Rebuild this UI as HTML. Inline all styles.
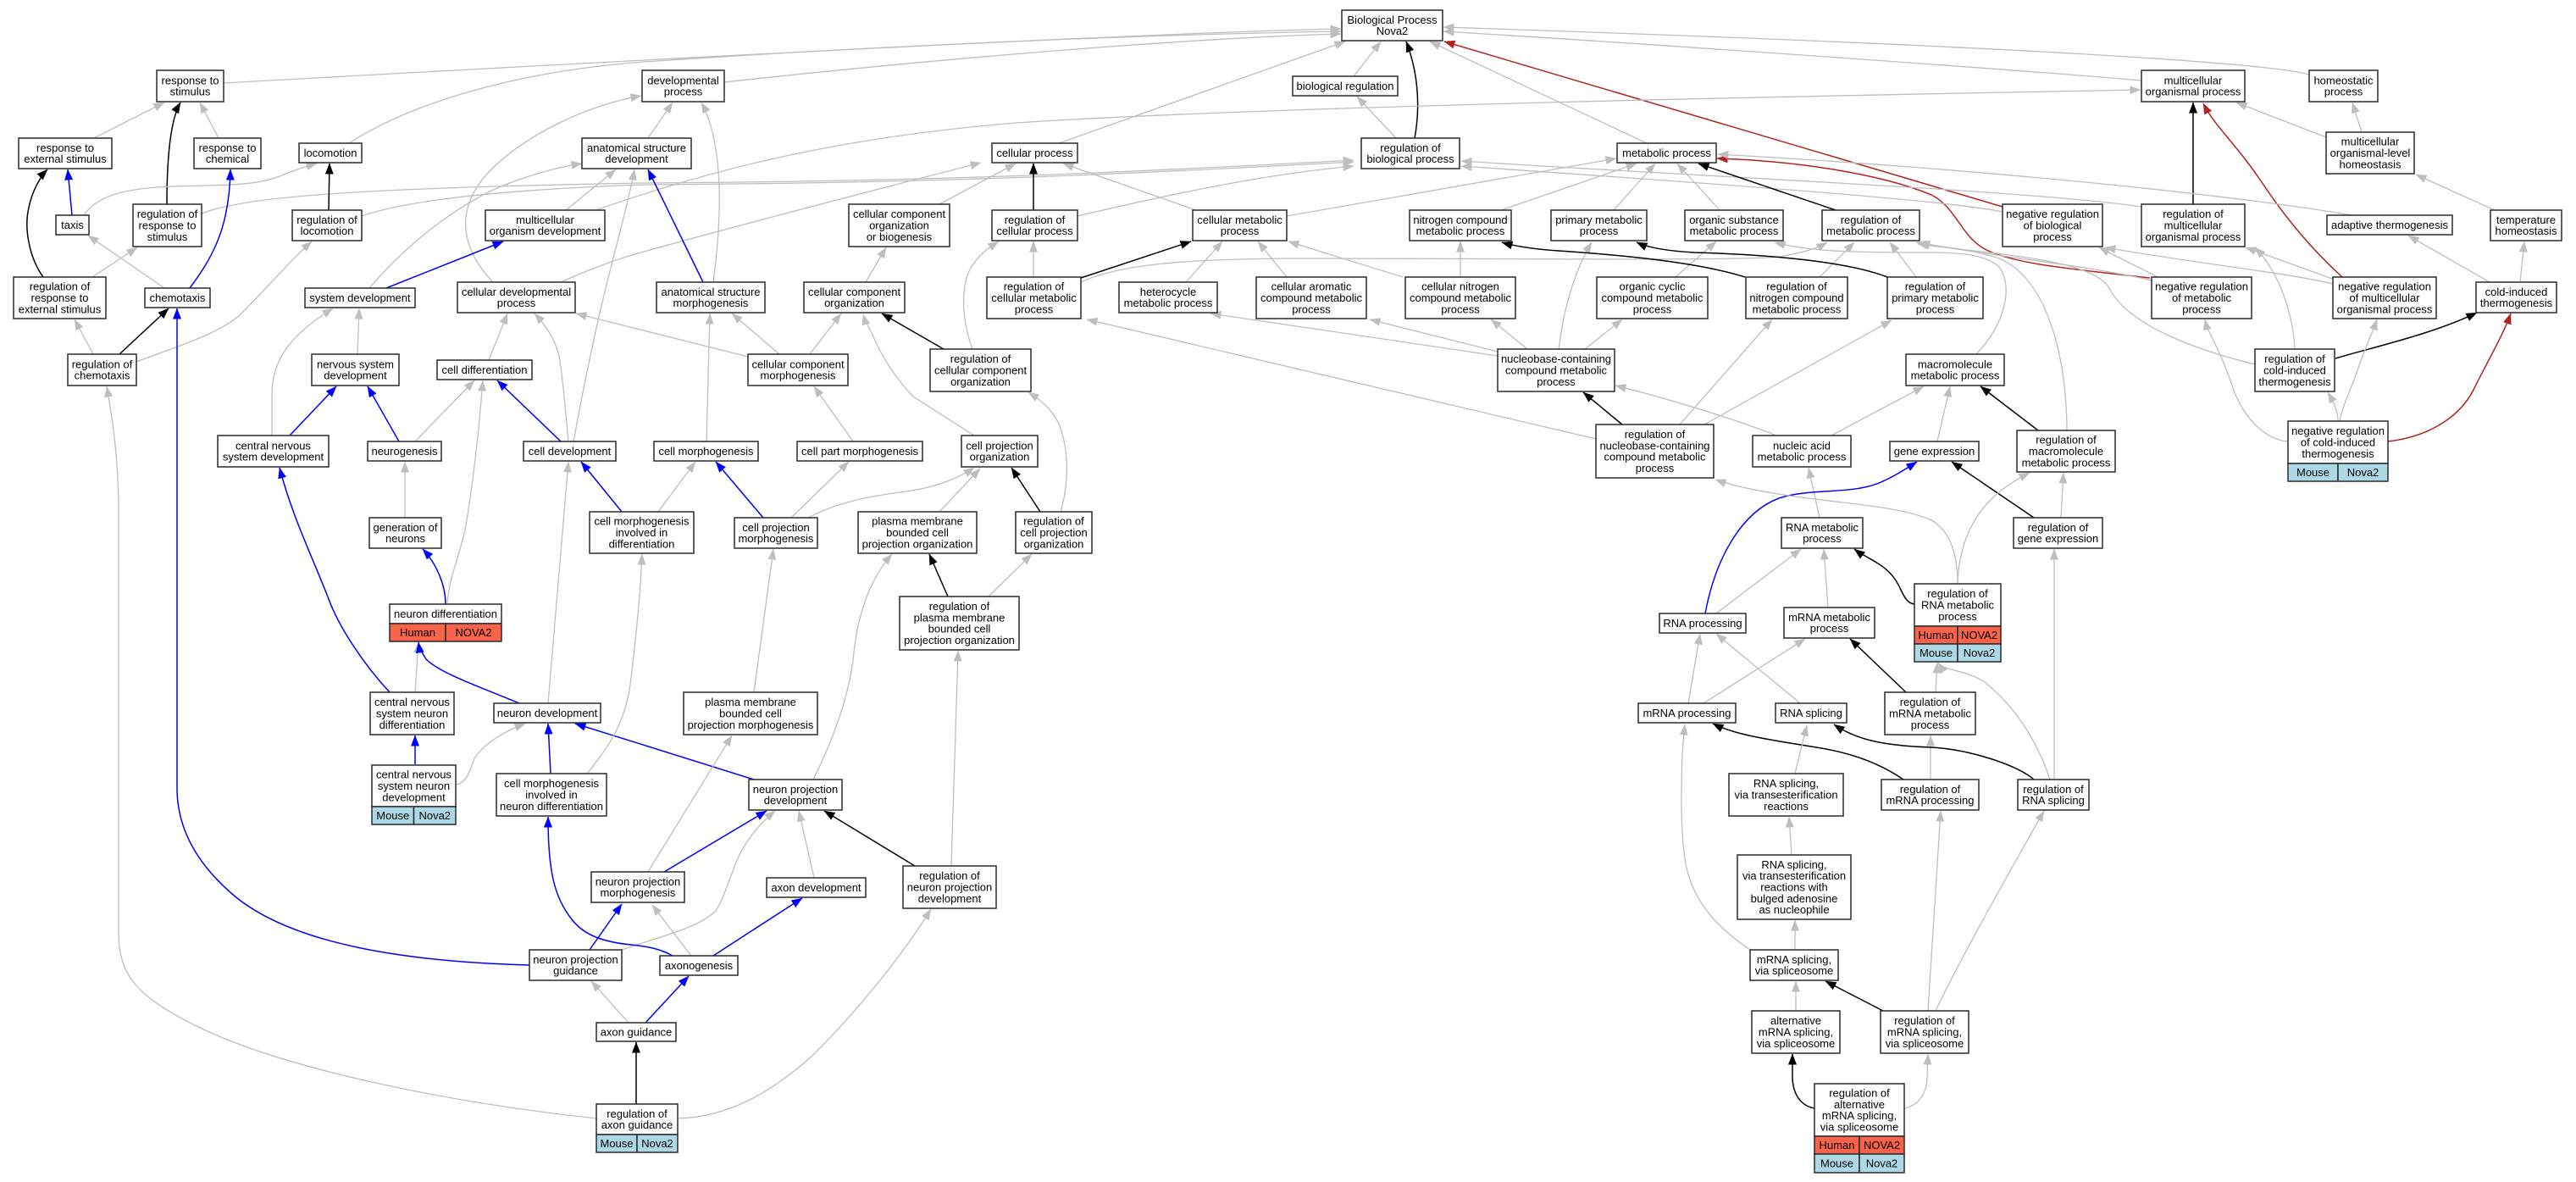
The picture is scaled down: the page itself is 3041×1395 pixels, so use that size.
<!DOCTYPE html>
<html><head><meta charset="utf-8"><style>
html,body{margin:0;padding:0;background:#fff;}
svg{display:block;}
.e{fill:none;stroke-width:1.3}
.g{stroke:#bebebe;marker-end:url(#ag)}
.k{stroke:#000;stroke-width:1.5;marker-end:url(#ak)}
.b{stroke:#0000ff;stroke-width:1.5;marker-end:url(#ab)}
.r{stroke:#b22222;stroke-width:1.5;marker-end:url(#ar)}
rect{fill:#fff;stroke:#2a2a2a;stroke-width:1.5}
rect.h{fill:#f9634a}
rect.m{fill:#add8e6}
text{font-family:"Liberation Sans",Arial,sans-serif;font-size:13px;text-anchor:middle;fill:#000}
</style></head><body>
<svg width="3041" height="1395" viewBox="0 0 3041 1395" xmlns="http://www.w3.org/2000/svg">
<defs>
<marker id="ag" viewBox="0 0 13 10" refX="12.5" refY="5" markerWidth="13" markerHeight="10" markerUnits="userSpaceOnUse" orient="auto"><path d="M0,0L13,5L0,10z" fill="#bebebe"/></marker>
<marker id="ak" viewBox="0 0 13 10" refX="12.5" refY="5" markerWidth="13" markerHeight="10" markerUnits="userSpaceOnUse" orient="auto"><path d="M0,0L13,5L0,10z" fill="#000"/></marker>
<marker id="ab" viewBox="0 0 13 10" refX="12.5" refY="5" markerWidth="13" markerHeight="10" markerUnits="userSpaceOnUse" orient="auto"><path d="M0,0L13,5L0,10z" fill="#0000ff"/></marker>
<marker id="ar" viewBox="0 0 13 10" refX="12.5" refY="5" markerWidth="13" markerHeight="10" markerUnits="userSpaceOnUse" orient="auto"><path d="M0,0L13,5L0,10z" fill="#b22222"/></marker>
</defs>
<rect x="0" y="0" width="3041" height="1395" style="fill:#fff;stroke:none"/>

<!-- edges -->
<g class="e">
<path class="g" d="M264,98 C500,85 1300,40 1583,34"/>
<path class="g" d="M412,169 C480,125 600,85 760,73 C1100,50 1400,40 1583,37"/>
<path class="g" d="M855,97 C1100,70 1400,45 1583,40"/>
<path class="g" d="M1250,169 L1588,49"/>
<path class="g" d="M1598,90 L1630,49"/>
<path class="k" d="M1670,163 C1678,120 1672,80 1660,49"/>
<path class="g" d="M1944,169 L1688,49"/>
<path class="r" d="M2364,244 L1705,49"/>
<path class="g" d="M2528,95 C2400,84 2000,55 1704,37"/>
<path class="g" d="M2726,88 C2680,75 2400,55 1704,32"/>
<path class="g" d="M1648,163 L1602,114"/>
<path class="g" d="M111,163 L194,121"/>
<path class="g" d="M258,163 L236,121"/>
<path class="k" d="M197,241 C197,180 202,140 213,121"/>
<path class="g" d="M765,163 L794,121"/>
<path class="g" d="M842,333 C852,260 855,170 828,121"/>
<path class="g" d="M582,333 C550,300 530,250 580,200 C620,160 690,125 757,113"/>
<path class="g" d="M703,248 C800,215 950,165 1200,145 C1500,125 2200,112 2527,106"/>
<path class="g" d="M668,248 L727,200"/>
<path class="g" d="M2746,162 L2640,121"/>
<path class="g" d="M2788,156 L2777,121"/>
<path class="k" d="M2589,241 L2589,121"/>
<path class="r" d="M2765,327 C2730,295 2700,260 2670,215 C2640,170 2615,150 2601,122"/>
<path class="g" d="M2945,248 L2852,206"/>
<path class="g" d="M2939,333 L2843,278"/>
<path class="g" d="M2975,333 L2980,285"/>
<path class="k" d="M2757,423 C2800,410 2870,395 2924,369"/>
<path class="r" d="M2819,521 C2870,515 2905,490 2920,460 C2940,420 2955,395 2964,370"/>
<path class="g" d="M2760,497 C2760,485 2755,475 2748,463"/>
<path class="g" d="M2762,497 C2765,480 2775,460 2782,440 C2792,410 2800,395 2806,377"/>
<path class="g" d="M2701,521 C2680,520 2650,500 2635,455 C2620,410 2607,395 2603,377"/>
<path class="g" d="M2754,335 C2700,322 2600,312 2485,292"/>
<path class="g" d="M2756,330 L2651,292"/>
<path class="g" d="M2709,412 C2707,370 2690,320 2662,292"/>
<path class="g" d="M2547,327 L2478,292"/>
<path class="r" d="M2538,328 C2450,318 2380,312 2345,295 C2315,280 2310,245 2280,230 C2220,205 2120,190 2027,187"/>
<path class="g" d="M2540,331 C2460,312 2330,300 2266,286"/>
<path class="g" d="M2440,508 C2440,430 2420,330 2360,305 C2320,292 2290,292 2262,286"/>
<path class="g" d="M2662,430 C2580,410 2510,380 2490,340 C2470,305 2350,300 2264,288"/>
<path class="g" d="M2528,244 C2400,225 2000,208 1725,190"/>
<path class="g" d="M2364,250 C2300,236 2000,215 1725,196"/>
<path class="g" d="M2777,254 C2600,225 2300,197 2028,182"/>
<path class="b" d="M85,254 L80,200"/>
<path class="g" d="M99,254 C115,230 150,222 204,220 C260,218 300,220 330,208 C350,200 362,196 374,193"/>
<path class="g" d="M238,252 C290,232 420,222 760,216 C1100,214 1300,205 1598,189"/>
<path class="g" d="M427,255 C470,240 560,225 760,218 C1100,216 1300,207 1598,191"/>
<path class="g" d="M1272,255 C1400,225 1500,205 1598,196"/>
<path class="k" d="M51,327 C35,305 28,270 34,245 C38,225 48,208 56,200"/>
<path class="g" d="M109,327 L162,292"/>
<path class="g" d="M110,418 L88,377"/>
<path class="k" d="M141,418 L199,364"/>
<path class="g" d="M161,427 C220,405 262,392 285,370 C315,340 345,305 368,285"/>
<path class="k" d="M388,248 L389,193"/>
<path class="g" d="M194,340 L104,278"/>
<path class="b" d="M224,340 C250,305 271,270 272,200"/>
<path class="g" d="M436,340 C470,300 520,255 580,225 C620,207 660,197 687,193"/>
<path class="b" d="M456,340 L594,285"/>
<path class="g" d="M422,418 L424,364"/>
<path class="g" d="M321,514 L321,465 C322,430 335,400 393,364"/>
<path class="g" d="M662,333 C700,316 730,305 760,297 C900,258 1050,220 1158,192"/>
<path class="g" d="M883,421 L680,370"/>
<path class="g" d="M577,425 L599,370"/>
<path class="g" d="M671,521 C667,480 664,440 660,420 C655,400 645,385 631,370"/>
<path class="g" d="M677,521 C685,480 690,450 697,420 C715,330 740,250 749,200"/>
<path class="b" d="M830,333 L765,200"/>
<path class="g" d="M834,521 L838,370"/>
<path class="g" d="M920,418 L864,370"/>
<path class="g" d="M956,418 L993,370"/>
<path class="g" d="M1022,333 L1046,292"/>
<path class="k" d="M1114,412 L1041,370"/>
<path class="g" d="M1148,412 C1138,385 1132,345 1145,318 C1155,300 1168,292 1179,285"/>
<path class="g" d="M1109,241 L1199,193"/>
<path class="k" d="M1220,248 L1220,193"/>
<path class="g" d="M1412,248 L1255,193"/>
<path class="g" d="M1220,327 L1220,285"/>
<path class="k" d="M1276,328 L1406,285"/>
<path class="g" d="M1276,333 C1320,312 1400,306 1520,305 C1800,305 2050,308 2100,303 C2130,298 2145,293 2157,286"/>
<path class="g" d="M1400,333 L1443,285"/>
<path class="g" d="M1519,327 L1485,285"/>
<path class="g" d="M1656,327 L1521,285"/>
<path class="g" d="M1519,255 L1908,187"/>
<path class="g" d="M1772,248 L1932,193"/>
<path class="g" d="M1905,248 L1954,193"/>
<path class="g" d="M2030,248 L1980,193"/>
<path class="k" d="M2167,248 L2005,193"/>
<path class="g" d="M1724,327 L1724,285"/>
<path class="g" d="M1803,412 L1760,377"/>
<path class="g" d="M1871,412 L1915,377"/>
<path class="g" d="M1840,412 C1845,370 1858,320 1879,286"/>
<path class="g" d="M1768,420 L1429,370"/>
<path class="g" d="M1768,415 L1617,377"/>
<path class="g" d="M1978,327 L2026,285"/>
<path class="k" d="M2060,327 C2000,308 1900,300 1840,296 C1810,294 1790,291 1773,286"/>
<path class="g" d="M2148,327 L2189,286"/>
<path class="k" d="M2228,327 C2180,308 2080,300 2000,298 C1965,296 1945,292 1932,286"/>
<path class="g" d="M2262,327 L2231,286"/>
<path class="g" d="M2333,418 C2365,385 2378,340 2360,315 C2345,300 2310,298 2280,298 C2200,298 2140,298 2095,286"/>
<path class="k" d="M1915,501 L1869,463"/>
<path class="g" d="M1983,501 L2092,377"/>
<path class="g" d="M2012,501 L2233,378"/>
<path class="g" d="M1884,518 L1283,377"/>
<path class="g" d="M2097,514 C2050,495 1960,468 1907,455"/>
<path class="g" d="M2162,514 L2271,456"/>
<path class="g" d="M2287,521 L2302,456"/>
<path class="k" d="M2406,508 L2338,456"/>
<path class="k" d="M2401,611 L2304,545"/>
<path class="g" d="M2433,611 L2436,558"/>
<path class="g" d="M2148,611 L2135,552"/>
<path class="b" d="M2013,724 C2025,660 2055,605 2100,588 C2140,575 2190,585 2225,567 C2240,560 2252,552 2263,545"/>
<path class="g" d="M2026,724 L2126,648"/>
<path class="g" d="M2158,717 L2153,648"/>
<path class="k" d="M2260,713 C2248,712 2245,695 2238,685 C2225,665 2205,660 2189,648"/>
<path class="g" d="M2311,689 C2311,650 2300,625 2280,614 C2250,600 2190,595 2150,590 C2090,583 2050,575 2025,566"/>
<path class="g" d="M2311,689 C2312,650 2325,615 2350,590 C2365,575 2380,566 2396,558"/>
<path class="g" d="M1993,830 L2007,748"/>
<path class="g" d="M2011,830 L2131,754"/>
<path class="g" d="M2125,830 L2026,748"/>
<path class="k" d="M2250,817 L2184,754"/>
<path class="g" d="M2285,817 L2287,782"/>
<path class="k" d="M2247,920 C2215,898 2180,888 2150,883 C2090,873 2050,868 2022,854"/>
<path class="g" d="M2279,920 L2279,868"/>
<path class="k" d="M2401,920 C2385,905 2330,885 2280,882 C2220,880 2190,872 2165,855"/>
<path class="g" d="M2425,920 L2425,648"/>
<path class="g" d="M2420,920 C2405,875 2380,835 2343,805 C2320,790 2295,792 2288,782"/>
<path class="g" d="M2119,913 L2133,856"/>
<path class="g" d="M2115,1009 L2112,964"/>
<path class="g" d="M2119,1121 L2119,1086"/>
<path class="g" d="M2066,1121 C2035,1100 2000,1070 1990,1020 C1983,980 1985,920 1986,890 C1987,875 1988,865 1989,855"/>
<path class="g" d="M2120,1193 L2120,1158"/>
<path class="k" d="M2223,1193 L2155,1158"/>
<path class="g" d="M2276,1193 L2291,957"/>
<path class="g" d="M2285,1193 C2310,1140 2360,1050 2413,957"/>
<path class="k" d="M2142,1308 C2125,1305 2116,1290 2116,1270 L2116,1244"/>
<path class="g" d="M2248,1308 C2265,1305 2275,1290 2275,1270 L2276,1244"/>
<path class="b" d="M342,514 L397,456"/>
<path class="b" d="M471,521 L434,456"/>
<path class="g" d="M490,521 L560,449"/>
<path class="g" d="M528,713 C530,680 545,650 550,620 C560,560 566,500 570,449"/>
<path class="b" d="M662,521 L587,449"/>
<path class="g" d="M478,611 L478,545"/>
<path class="b" d="M526,713 C526,690 515,665 499,648"/>
<path class="g" d="M490,817 L494,758"/>
<path class="b" d="M460,817 C430,785 400,740 388,707 C370,660 345,610 330,552"/>
<path class="b" d="M613,830 C570,812 520,795 503,778 C498,770 495,765 494,758"/>
<path class="b" d="M490,902 L490,868"/>
<path class="b" d="M734,604 L686,545"/>
<path class="g" d="M647,830 L671,545"/>
<path class="b" d="M650,913 L647,854"/>
<path class="g" d="M538,926 C550,925 555,910 560,895 C570,880 590,865 620,854"/>
<path class="b" d="M890,920 L679,854"/>
<path class="g" d="M693,913 C720,880 740,850 745,800 C752,740 756,700 758,654"/>
<path class="g" d="M777,604 L821,545"/>
<path class="b" d="M901,611 L845,545"/>
<path class="g" d="M934,611 L1002,545"/>
<path class="g" d="M954,611 C990,592 1030,585 1070,580 C1105,575 1130,565 1150,552"/>
<path class="g" d="M1109,604 L1157,553"/>
<path class="k" d="M1228,604 L1194,552"/>
<path class="g" d="M1007,521 L961,456"/>
<path class="g" d="M1150,514 L1078,468 C1060,450 1040,420 1030,395 C1025,385 1021,378 1019,371"/>
<path class="g" d="M1252,604 C1262,570 1262,530 1250,500 C1240,480 1225,470 1214,463"/>
<path class="k" d="M1119,704 L1097,654"/>
<path class="g" d="M1167,704 L1218,654"/>
<path class="g" d="M890,817 L913,648"/>
<path class="g" d="M960,920 C980,880 1000,830 1007,780 C1012,720 1030,680 1053,654"/>
<path class="g" d="M1123,1022 L1131,768"/>
<path class="g" d="M765,1029 L864,868"/>
<path class="b" d="M625,1139 C480,1135 350,1115 280,1060 C225,1015 209,970 209,930 L209,364"/>
<path class="g" d="M704,1320 C520,1300 330,1260 230,1210 C160,1175 140,1150 140,1100 L140,600 C140,540 132,490 126,456"/>
<path class="b" d="M696,1121 L734,1067"/>
<path class="g" d="M734,1121 C780,1105 825,1095 845,1075 C858,1055 865,1020 878,1000 C888,982 902,968 915,957"/>
<path class="b" d="M794,1128 C780,1120 765,1117 745,1115 C715,1112 690,1105 675,1085 C655,1060 647,1030 647,964"/>
<path class="g" d="M816,1128 L770,1068"/>
<path class="b" d="M842,1128 L947,1060"/>
<path class="b" d="M762,1207 L813,1152"/>
<path class="g" d="M742,1207 L698,1158"/>
<path class="k" d="M751,1303 L751,1230"/>
<path class="g" d="M801,1320 C860,1318 910,1290 960,1245 C1020,1185 1070,1120 1099,1073"/>
<path class="b" d="M784,1029 L905,957"/>
<path class="g" d="M961,1036 L943,957"/>
<path class="k" d="M1080,1022 L973,957"/>
</g>

<!-- nodes -->
<rect x="1584" y="12" width="119" height="36"/><text x="1643.5" y="27.9">Biological Process</text><text x="1643.5" y="41.2">Nova2</text>
<rect x="1526" y="90" width="124" height="23"/><text x="1588" y="106">biological regulation</text>
<rect x="1607" y="163" width="116" height="36"/><text x="1665" y="178.9">regulation of</text><text x="1665" y="192.2">biological process</text>
<rect x="185" y="83" width="79" height="37"/><text x="224.5" y="99.4">response to</text><text x="224.5" y="112.7">stimulus</text>
<rect x="758" y="83" width="97" height="37"/><text x="806.5" y="99.4">developmental</text><text x="806.5" y="112.7">process</text>
<rect x="2528" y="83" width="122" height="37"/><text x="2589" y="99.4">multicellular</text><text x="2589" y="112.7">organismal process</text>
<rect x="2726" y="83" width="81" height="37"/><text x="2766.5" y="99.4">homeostatic</text><text x="2766.5" y="112.7">process</text>
<rect x="22" y="163" width="110" height="36"/><text x="77" y="178.9">response to</text><text x="77" y="192.2">external stimulus</text>
<rect x="229" y="163" width="79" height="36"/><text x="268.5" y="178.9">response to</text><text x="268.5" y="192.2">chemical</text>
<rect x="353" y="169" width="74" height="23"/><text x="390" y="185">locomotion</text>
<rect x="687" y="163" width="129" height="36"/><text x="751.5" y="178.9">anatomical structure</text><text x="751.5" y="192.2">development</text>
<rect x="1171" y="169" width="101" height="23"/><text x="1221.5" y="185">cellular process</text>
<rect x="1909" y="169" width="117" height="23"/><text x="1967.5" y="185">metabolic process</text>
<rect x="2746" y="156" width="104" height="49"/><text x="2798" y="171.7">multicellular</text><text x="2798" y="185">organismal-level</text><text x="2798" y="198.3">homeostasis</text>
<rect x="66" y="254" width="39" height="23"/><text x="85.5" y="270">taxis</text>
<rect x="157" y="241" width="81" height="50"/><text x="197.5" y="257.2">regulation of</text><text x="197.5" y="270.5">response to</text><text x="197.5" y="283.8">stimulus</text>
<rect x="345" y="248" width="82" height="36"/><text x="386" y="263.9">regulation of</text><text x="386" y="277.2">locomotion</text>
<rect x="573" y="248" width="141" height="36"/><text x="643.5" y="263.9">multicellular</text><text x="643.5" y="277.2">organism development</text>
<rect x="1002" y="241" width="119" height="50"/><text x="1061.5" y="257.2">cellular component</text><text x="1061.5" y="270.5">organization</text><text x="1061.5" y="283.8">or biogenesis</text>
<rect x="1171" y="248" width="101" height="36"/><text x="1221.5" y="263.9">regulation of</text><text x="1221.5" y="277.2">cellular process</text>
<rect x="1408" y="248" width="111" height="36"/><text x="1463.5" y="263.9">cellular metabolic</text><text x="1463.5" y="277.2">process</text>
<rect x="1664" y="248" width="120" height="36"/><text x="1724" y="263.9">nitrogen compound</text><text x="1724" y="277.2">metabolic process</text>
<rect x="1831" y="248" width="113" height="36"/><text x="1887.5" y="263.9">primary metabolic</text><text x="1887.5" y="277.2">process</text>
<rect x="1989" y="248" width="116" height="36"/><text x="2047" y="263.9">organic substance</text><text x="2047" y="277.2">metabolic process</text>
<rect x="2151" y="248" width="115" height="36"/><text x="2208.5" y="263.9">regulation of</text><text x="2208.5" y="277.2">metabolic process</text>
<rect x="2364" y="241" width="118" height="50"/><text x="2423" y="257.2">negative regulation</text><text x="2423" y="270.5">of biological</text><text x="2423" y="283.8">process</text>
<rect x="2528" y="241" width="122" height="50"/><text x="2589" y="257.2">regulation of</text><text x="2589" y="270.5">multicellular</text><text x="2589" y="283.8">organismal process</text>
<rect x="2747" y="254" width="148" height="23"/><text x="2821" y="270">adaptive thermogenesis</text>
<rect x="2940" y="248" width="84" height="36"/><text x="2982" y="263.9">temperature</text><text x="2982" y="277.2">homeostasis</text>
<rect x="16" y="327" width="109" height="49"/><text x="70.5" y="342.7">regulation of</text><text x="70.5" y="356">response to</text><text x="70.5" y="369.3">external stimulus</text>
<rect x="171" y="340" width="77" height="23"/><text x="209.5" y="356">chemotaxis</text>
<rect x="360" y="340" width="130" height="23"/><text x="425" y="356">system development</text>
<rect x="540" y="333" width="139" height="36"/><text x="609.5" y="348.9">cellular developmental</text><text x="609.5" y="362.2">process</text>
<rect x="775" y="333" width="128" height="36"/><text x="839" y="348.9">anatomical structure</text><text x="839" y="362.2">morphogenesis</text>
<rect x="949" y="333" width="119" height="36"/><text x="1008.5" y="348.9">cellular component</text><text x="1008.5" y="362.2">organization</text>
<rect x="1165" y="327" width="111" height="49"/><text x="1220.5" y="342.7">regulation of</text><text x="1220.5" y="356">cellular metabolic</text><text x="1220.5" y="369.3">process</text>
<rect x="1321" y="333" width="116" height="36"/><text x="1379" y="348.9">heterocycle</text><text x="1379" y="362.2">metabolic process</text>
<rect x="1483" y="327" width="130" height="49"/><text x="1548" y="342.7">cellular aromatic</text><text x="1548" y="356">compound metabolic</text><text x="1548" y="369.3">process</text>
<rect x="1659" y="327" width="130" height="49"/><text x="1724" y="342.7">cellular nitrogen</text><text x="1724" y="356">compound metabolic</text><text x="1724" y="369.3">process</text>
<rect x="1885" y="327" width="131" height="49"/><text x="1950.5" y="342.7">organic cyclic</text><text x="1950.5" y="356">compound metabolic</text><text x="1950.5" y="369.3">process</text>
<rect x="2061" y="327" width="120" height="49"/><text x="2121" y="342.7">regulation of</text><text x="2121" y="356">nitrogen compound</text><text x="2121" y="369.3">metabolic process</text>
<rect x="2228" y="327" width="113" height="49"/><text x="2284.5" y="342.7">regulation of</text><text x="2284.5" y="356">primary metabolic</text><text x="2284.5" y="369.3">process</text>
<rect x="2540" y="327" width="118" height="49"/><text x="2599" y="342.7">negative regulation</text><text x="2599" y="356">of metabolic</text><text x="2599" y="369.3">process</text>
<rect x="2754" y="327" width="122" height="49"/><text x="2815" y="342.7">negative regulation</text><text x="2815" y="356">of multicellular</text><text x="2815" y="369.3">organismal process</text>
<rect x="2923" y="333" width="95" height="36"/><text x="2970.5" y="348.9">cold-induced</text><text x="2970.5" y="362.2">thermogenesis</text>
<rect x="80" y="418" width="81" height="37"/><text x="120.5" y="434.4">regulation of</text><text x="120.5" y="447.7">chemotaxis</text>
<rect x="368" y="418" width="103" height="37"/><text x="419.5" y="434.4">nervous system</text><text x="419.5" y="447.7">development</text>
<rect x="516" y="425" width="112" height="23"/><text x="572" y="441">cell differentiation</text>
<rect x="883" y="418" width="118" height="37"/><text x="942" y="434.4">cellular component</text><text x="942" y="447.7">morphogenesis</text>
<rect x="1098" y="412" width="119" height="50"/><text x="1157.5" y="428.2">regulation of</text><text x="1157.5" y="441.5">cellular component</text><text x="1157.5" y="454.8">organization</text>
<rect x="1768" y="412" width="138" height="50"/><text x="1837" y="428.2">nucleobase-containing</text><text x="1837" y="441.5">compound metabolic</text><text x="1837" y="454.8">process</text>
<rect x="2250" y="418" width="116" height="37"/><text x="2308" y="434.4">macromolecule</text><text x="2308" y="447.7">metabolic process</text>
<rect x="2662" y="412" width="94" height="50"/><text x="2709" y="428.2">regulation of</text><text x="2709" y="441.5">cold-induced</text><text x="2709" y="454.8">thermogenesis</text>
<rect x="257" y="514" width="131" height="37"/><text x="322.5" y="530.4">central nervous</text><text x="322.5" y="543.7">system development</text>
<rect x="434" y="521" width="87" height="23"/><text x="477.5" y="537">neurogenesis</text>
<rect x="618" y="521" width="109" height="23"/><text x="672.5" y="537">cell development</text>
<rect x="772" y="521" width="123" height="23"/><text x="833.5" y="537">cell morphogenesis</text>
<rect x="941" y="521" width="148" height="23"/><text x="1015" y="537">cell part morphogenesis</text>
<rect x="1135" y="514" width="90" height="37"/><text x="1180" y="530.4">cell projection</text><text x="1180" y="543.7">organization</text>
<rect x="1884" y="501" width="139" height="63"/><text x="1953.5" y="517">regulation of</text><text x="1953.5" y="530.4">nucleobase-containing</text><text x="1953.5" y="543.7">compound metabolic</text><text x="1953.5" y="557">process</text>
<rect x="2069" y="514" width="116" height="37"/><text x="2127" y="530.4">nucleic acid</text><text x="2127" y="543.7">metabolic process</text>
<rect x="2231" y="521" width="105" height="23"/><text x="2283.5" y="537">gene expression</text>
<rect x="2381" y="508" width="116" height="49"/><text x="2439" y="523.7">regulation of</text><text x="2439" y="537">macromolecule</text><text x="2439" y="550.3">metabolic process</text>
<rect x="2701" y="497" width="118" height="50"/><text x="2760" y="513.2">negative regulation</text><text x="2760" y="526.5">of cold-induced</text><text x="2760" y="539.8">thermogenesis</text>
<rect class="m" x="2701" y="547" width="59" height="21"/><rect class="m" x="2760" y="547" width="59" height="21"/><text x="2730.5" y="562">Mouse</text><text x="2789.5" y="562">Nova2</text>
<rect x="436" y="611" width="85" height="36"/><text x="478.5" y="626.9">generation of</text><text x="478.5" y="640.2">neurons</text>
<rect x="696" y="604" width="123" height="49"/><text x="757.5" y="619.7">cell morphogenesis</text><text x="757.5" y="633">involved in</text><text x="757.5" y="646.3">differentiation</text>
<rect x="867" y="611" width="98" height="36"/><text x="916" y="626.9">cell projection</text><text x="916" y="640.2">morphogenesis</text>
<rect x="1013" y="604" width="140" height="49"/><text x="1083" y="619.7">plasma membrane</text><text x="1083" y="633">bounded cell</text><text x="1083" y="646.3">projection organization</text>
<rect x="1199" y="604" width="90" height="49"/><text x="1244" y="619.7">regulation of</text><text x="1244" y="633">cell projection</text><text x="1244" y="646.3">organization</text>
<rect x="2103" y="611" width="96" height="36"/><text x="2151" y="626.9">RNA metabolic</text><text x="2151" y="640.2">process</text>
<rect x="2377" y="611" width="105" height="36"/><text x="2429.5" y="626.9">regulation of</text><text x="2429.5" y="640.2">gene expression</text>
<rect x="1062" y="704" width="141" height="63"/><text x="1132.5" y="720">regulation of</text><text x="1132.5" y="733.4">plasma membrane</text><text x="1132.5" y="746.7">bounded cell</text><text x="1132.5" y="760">projection organization</text>
<rect x="460" y="713" width="132" height="23"/><text x="526" y="729">neuron differentiation</text>
<rect class="h" x="460" y="736" width="66" height="21"/><rect class="h" x="526" y="736" width="66" height="21"/><text x="493" y="751">Human</text><text x="559" y="751">NOVA2</text>
<rect x="1959" y="724" width="102" height="23"/><text x="2010" y="740">RNA processing</text>
<rect x="2106" y="717" width="107" height="36"/><text x="2159.5" y="732.9">mRNA metabolic</text><text x="2159.5" y="746.2">process</text>
<rect x="2260" y="689" width="102" height="50"/><text x="2311" y="705.2">regulation of</text><text x="2311" y="718.5">RNA metabolic</text><text x="2311" y="731.8">process</text>
<rect class="h" x="2260" y="739" width="51" height="21"/><rect class="h" x="2311" y="739" width="51" height="21"/><text x="2285.5" y="754">Human</text><text x="2336.5" y="754">NOVA2</text>
<rect class="m" x="2260" y="760" width="51" height="21"/><rect class="m" x="2311" y="760" width="51" height="21"/><text x="2285.5" y="775">Mouse</text><text x="2336.5" y="775">Nova2</text>
<rect x="437" y="817" width="99" height="50"/><text x="486.5" y="833.2">central nervous</text><text x="486.5" y="846.5">system neuron</text><text x="486.5" y="859.8">differentiation</text>
<rect x="583" y="830" width="126" height="23"/><text x="646" y="846">neuron development</text>
<rect x="807" y="817" width="158" height="50"/><text x="886" y="833.2">plasma membrane</text><text x="886" y="846.5">bounded cell</text><text x="886" y="859.8">projection morphogenesis</text>
<rect x="1934" y="830" width="115" height="23"/><text x="1991.5" y="846">mRNA processing</text>
<rect x="2096" y="830" width="84" height="23"/><text x="2138" y="846">RNA splicing</text>
<rect x="2225" y="817" width="107" height="50"/><text x="2278.5" y="833.2">regulation of</text><text x="2278.5" y="846.5">mRNA metabolic</text><text x="2278.5" y="859.8">process</text>
<rect x="439" y="903" width="99" height="49"/><text x="488.5" y="918.7">central nervous</text><text x="488.5" y="932">system neuron</text><text x="488.5" y="945.3">development</text>
<rect class="m" x="439" y="952" width="49.5" height="21"/><rect class="m" x="488.5" y="952" width="49.5" height="21"/><text x="463.75" y="967">Mouse</text><text x="513.25" y="967">Nova2</text>
<rect x="586" y="913" width="130" height="50"/><text x="651" y="929.2">cell morphogenesis</text><text x="651" y="942.5">involved in</text><text x="651" y="955.8">neuron differentiation</text>
<rect x="884" y="920" width="110" height="36"/><text x="939" y="935.9">neuron projection</text><text x="939" y="949.2">development</text>
<rect x="2041" y="913" width="135" height="50"/><text x="2108.5" y="929.2">RNA splicing,</text><text x="2108.5" y="942.5">via transesterification</text><text x="2108.5" y="955.8">reactions</text>
<rect x="2221" y="920" width="115" height="36"/><text x="2278.5" y="935.9">regulation of</text><text x="2278.5" y="949.2">mRNA processing</text>
<rect x="2382" y="920" width="84" height="36"/><text x="2424" y="935.9">regulation of</text><text x="2424" y="949.2">RNA splicing</text>
<rect x="698" y="1029" width="110" height="36"/><text x="753" y="1044.9">neuron projection</text><text x="753" y="1058.2">morphogenesis</text>
<rect x="905" y="1036" width="117" height="23"/><text x="963.5" y="1052">axon development</text>
<rect x="1066" y="1022" width="110" height="50"/><text x="1121" y="1038.2">regulation of</text><text x="1121" y="1051.5">neuron projection</text><text x="1121" y="1064.8">development</text>
<rect x="2051" y="1009" width="134" height="76"/><text x="2118" y="1024.9">RNA splicing,</text><text x="2118" y="1038.2">via transesterification</text><text x="2118" y="1051.5">reactions with</text><text x="2118" y="1064.8">bulged adenosine</text><text x="2118" y="1078.1">as nucleophile</text>
<rect x="625" y="1121" width="109" height="36"/><text x="679.5" y="1136.9">neuron projection</text><text x="679.5" y="1150.2">guidance</text>
<rect x="779" y="1128" width="92" height="23"/><text x="825" y="1144">axonogenesis</text>
<rect x="2066" y="1121" width="104" height="36"/><text x="2118" y="1136.9">mRNA splicing,</text><text x="2118" y="1150.2">via spliceosome</text>
<rect x="704" y="1207" width="94" height="22"/><text x="751" y="1222.5">axon guidance</text>
<rect x="2068" y="1193" width="104" height="50"/><text x="2120" y="1209.2">alternative</text><text x="2120" y="1222.5">mRNA splicing,</text><text x="2120" y="1235.8">via spliceosome</text>
<rect x="2220" y="1193" width="104" height="50"/><text x="2272" y="1209.2">regulation of</text><text x="2272" y="1222.5">mRNA splicing,</text><text x="2272" y="1235.8">via spliceosome</text>
<rect x="704" y="1303" width="96" height="36"/><text x="752" y="1318.9">regulation of</text><text x="752" y="1332.2">axon guidance</text>
<rect class="m" x="704" y="1339" width="48" height="21"/><rect class="m" x="752" y="1339" width="48" height="21"/><text x="728" y="1354">Mouse</text><text x="776" y="1354">Nova2</text>
<rect x="2142" y="1279" width="106" height="62"/><text x="2195" y="1294.6">regulation of</text><text x="2195" y="1307.9">alternative</text><text x="2195" y="1321.2">mRNA splicing,</text><text x="2195" y="1334.5">via spliceosome</text>
<rect class="h" x="2142" y="1341" width="53" height="21"/><rect class="h" x="2195" y="1341" width="53" height="21"/><text x="2168.5" y="1356">Human</text><text x="2221.5" y="1356">NOVA2</text>
<rect class="m" x="2142" y="1362" width="53" height="22"/><rect class="m" x="2195" y="1362" width="53" height="22"/><text x="2168.5" y="1377.5">Mouse</text><text x="2221.5" y="1377.5">Nova2</text>
</svg>
</body></html>
